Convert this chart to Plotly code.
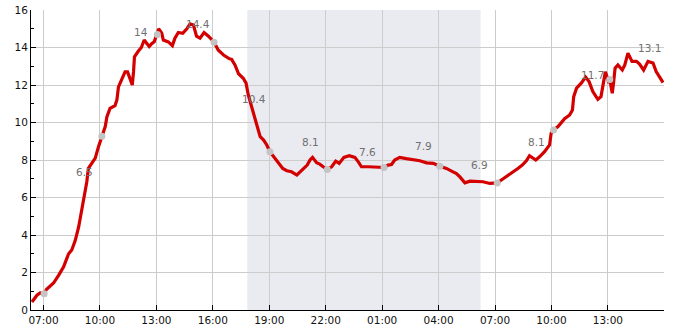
import plotly.graph_objects as go

D1 = "2024-01-01 "
D2 = "2024-01-02 "

# time series (day, clock) and values
times = [D1 + t for t in [
    "06:23", "06:39", "06:49", "07:02", "07:09", "07:32", "07:48", "08:04", "08:14", "08:20",
    "08:30", "08:41", "08:52", "09:02", "09:13", "09:18", "09:23", "09:34", "09:45", "09:55",
    "10:06", "10:17", "10:22", "10:32", "10:48", "10:54", "10:59", "11:10", "11:20", "11:28",
    "11:36", "11:43", "11:47", "11:50", "12:02", "12:12", "12:21", "12:29", "12:37", "12:45",
    "12:53", "12:59", "13:03", "13:07", "13:17", "13:22", "13:38", "13:51", "13:59", "14:10",
    "14:24", "14:37", "14:47", "14:58", "15:08", "15:19", "15:32", "15:46", "16:04", "16:17",
    "16:34", "16:53", "17:00", "17:11", "17:22", "17:37", "17:46", "17:53", "18:04", "18:15",
    "18:22", "18:31", "18:42", "18:52", "19:02", "19:18", "19:32", "19:43", "19:56", "20:11",
    "20:28", "20:43", "21:01", "21:10", "21:18", "21:31", "21:41", "21:52", "22:05", "22:19",
    "22:32", "22:43", "22:58", "23:15", "23:33", "23:44", "23:54"]] + [D2 + t for t in [
    "00:16", "00:53", "01:06", "01:19", "01:30", "01:40", "01:56", "02:17", "02:39", "03:00",
    "03:22", "03:43", "04:04", "04:25", "04:46", "04:57", "05:08", "05:13", "05:24", "05:40",
    "06:01", "06:22", "06:43", "07:07", "07:26", "07:52", "08:13", "08:27", "08:40", "08:50",
    "09:10", "09:22", "09:38", "09:54", "09:59", "10:07", "10:21", "10:42", "10:58", "11:07",
    "11:11", "11:20", "11:35", "11:49", "12:00", "12:12", "12:28", "12:38", "12:46", "12:52",
    "12:57", "13:03", "13:06", "13:14", "13:18", "13:23", "13:32", "13:46", "13:54", "14:04",
    "14:17", "14:31", "14:41", "14:54", "15:08", "15:24", "15:34", "15:45", "15:56"]]

values = [
    0.43, 0.79, 0.91, 0.87, 1.09, 1.44, 1.85, 2.3, 2.74, 3.0,
    3.2, 3.7, 4.43, 5.3, 6.4, 6.84, 7.55, 7.82, 8.1, 8.7,
    9.27, 9.8, 10.3, 10.75, 10.9, 11.2, 11.9, 12.35, 12.7, 12.7,
    12.3, 12.0, 12.7, 13.5, 13.8, 14.0, 14.4, 14.2, 14.05, 14.2,
    14.3, 14.6, 14.7, 15.0, 14.76, 14.4, 14.3, 14.1, 14.5, 14.8,
    14.76, 15.0, 15.26, 15.2, 14.6, 14.5, 14.8, 14.6, 14.28, 13.87,
    13.6, 13.4, 13.37, 13.06, 12.6, 12.36, 12.1, 11.47, 10.85, 10.2,
    9.78, 9.24, 9.06, 8.8, 8.44, 8.09, 7.82, 7.55, 7.43, 7.37,
    7.2, 7.43, 7.73, 8.0, 8.14, 7.85, 7.78, 7.64, 7.5, 7.64,
    7.94, 7.82, 8.14, 8.23, 8.14, 7.9, 7.64,
    7.64, 7.64, 7.6, 7.73, 7.76, 8.0, 8.14, 8.07, 8.03, 7.96,
    7.85, 7.82, 7.67, 7.55, 7.37, 7.28, 7.1, 7.0, 6.78, 6.87,
    6.87, 6.84, 6.75, 6.78, 7.0, 7.28, 7.55, 7.73, 7.96, 8.23,
    8.0, 8.17, 8.44, 8.8, 9.42, 9.6, 9.78, 10.2, 10.4, 10.67,
    11.38, 11.83, 12.1, 12.42, 12.18, 11.65, 11.24, 11.38, 12.1, 12.7,
    12.45, 12.1, 12.3, 11.56, 12.1, 12.9, 13.07, 12.8, 13.07, 13.7,
    13.26, 13.26, 13.12, 12.8, 13.26, 13.17, 12.72, 12.42, 12.13]

# grey sample markers
dot_times = [D1 + "07:02", D1 + "10:06", D1 + "13:03", D1 + "16:04", D1 + "19:02", D1 + "22:05",
             D2 + "01:06", D2 + "04:04", D2 + "07:07", D2 + "10:07", D2 + "13:06"]
dot_values = [0.87, 9.27, 14.7, 14.28, 8.44, 7.5, 7.6, 7.67, 6.78, 9.6, 12.3]

# value labels
label_times = [D1 + "09:12", D1 + "12:12", D1 + "15:12", D1 + "18:12", D1 + "21:12",
               D2 + "00:12", D2 + "03:12", D2 + "06:12", D2 + "09:12", D2 + "12:12", D2 + "15:12"]
label_values = [6.5, 14, 14.4, 10.4, 8.1, 7.6, 7.9, 6.9, 8.1, 11.7, 13.1]

night_start = D1 + "17:50"
night_end = D2 + "06:14"

x_range = [D1 + "06:20", D2 + "15:59"]
y_range = [0, 16]

fig = go.Figure()
fig.add_trace(go.Scatter(x=times, y=values, mode="lines",
                         line=dict(color="#d40000", width=3.2), hoverinfo="skip"))
fig.add_trace(go.Scatter(x=dot_times, y=dot_values, mode="markers",
                         marker=dict(color="#c4c4c4", size=7), hoverinfo="skip"))

fig.add_shape(type="rect", xref="x", yref="paper", x0=night_start, x1=night_end, y0=0, y1=1,
              fillcolor="rgb(234,234,241)", line=dict(width=0), layer="below")

for t, v in zip(label_times, label_values):
    fig.add_annotation(x=t, y=v, text=f"{v:g}", showarrow=False, yshift=16,
                       font=dict(family="DejaVu Sans", size=10.5, color="#707070"))

fig.update_layout(
    width=685, height=330,
    margin=dict(l=31, r=21, t=10, b=20, autoexpand=False),
    plot_bgcolor="white", paper_bgcolor="white",
    showlegend=False,
    font=dict(family="DejaVu Sans", size=10.5, color="#111111"),
)
fig.update_xaxes(
    type="date", range=x_range, tick0=D1 + "07:00", dtick=3 * 3600 * 1000,
    tickformat="%H:%M", showgrid=True, gridcolor="#cccccc", gridwidth=1,
    showline=True, linecolor="black", linewidth=1, automargin=False,
    ticks="inside", ticklen=5, tickcolor="black", zeroline=False,
)
fig.update_yaxes(
    range=y_range, dtick=2, showgrid=True, gridcolor="#cccccc", gridwidth=1,
    showline=True, linecolor="black", linewidth=1, automargin=False,
    ticks="inside", ticklen=5, tickcolor="black", zeroline=False,
    minor=dict(dtick=1, ticks="inside", ticklen=3, tickcolor="black", showgrid=False),
)

fig.write_html("out.html")
